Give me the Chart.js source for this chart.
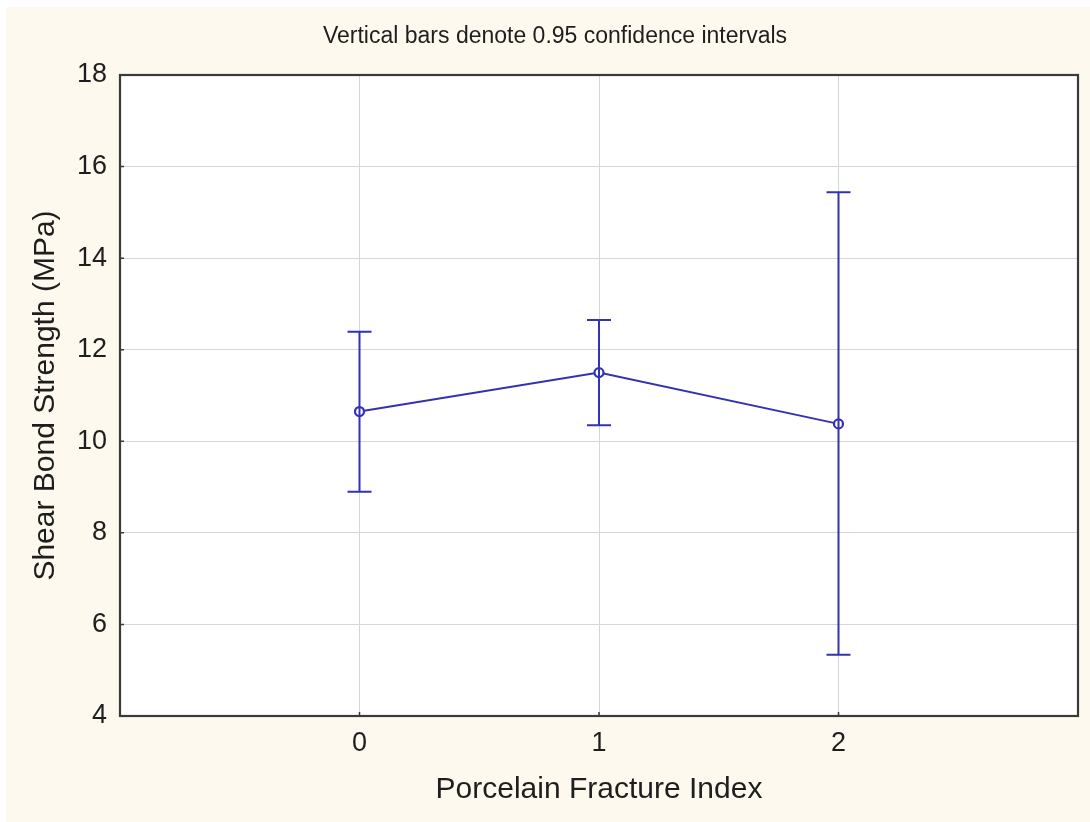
<!DOCTYPE html>
<html>
<head>
<meta charset="utf-8">
<script src="https://cdn.jsdelivr.net/npm/chart.js@4.4.1/dist/chart.umd.min.js"></script>
<style>
html, body { margin: 0; padding: 0; background: #ffffff; }
</style>
</head>
<body>
<canvas id="chart" width="1090" height="822"></canvas>
<script>
// Porcelain fracture index vs shear bond strength, means with 0.95 CI
const categories = [0, 1, 2]
const means = [10.65, 11.50, 10.38]
const upperCI = [12.39, 12.65, 15.44]
const lowerCI = [8.90, 10.35, 5.34]
const yTicks = [4, 6, 8, 10, 12, 14, 16, 18]
const headerText = 'Vertical bars denote 0.95 confidence intervals'

const lineColor = '#3232b2'
const frameColor = '#3a3a3a'
const gridColor = '#d6d6d6'
const textColor = '#1e1e1e'
const fontFamily = '"Liberation Sans", Arial, sans-serif'

const statisticaPlugin = {
    id: 'statisticaPlugin',
    beforeDraw(chart) {
        const ctx = chart.ctx
        const area = chart.chartArea
        ctx.save()
        ctx.fillStyle = '#ffffff'
        ctx.fillRect(0, 0, chart.width, chart.height)
        ctx.fillStyle = '#fdf9ef'
        ctx.fillRect(6, 7, chart.width - 6, chart.height - 7)
        ctx.fillStyle = '#ffffff'
        ctx.fillRect(area.left, area.top, area.right - area.left, area.bottom - area.top)
        ctx.restore()
    },
    afterDatasetsDraw(chart) {
        // error bars from the CI arrays
        const ctx = chart.ctx
        const xScale = chart.scales.x
        const yScale = chart.scales.y
        ctx.save()
        ctx.strokeStyle = lineColor
        ctx.lineWidth = 2
        for (let i = 0; i < categories.length; i++) {
            const x = xScale.getPixelForValue(categories[i])
            const yTop = yScale.getPixelForValue(upperCI[i])
            const yBottom = yScale.getPixelForValue(lowerCI[i])
            ctx.beginPath()
            ctx.moveTo(x, yTop)
            ctx.lineTo(x, yBottom)
            ctx.moveTo(x - 12, yTop)
            ctx.lineTo(x + 12, yTop)
            ctx.moveTo(x - 12, yBottom)
            ctx.lineTo(x + 12, yBottom)
            ctx.stroke()
        }
        ctx.restore()
    },
    afterDraw(chart) {
        const ctx = chart.ctx
        const area = chart.chartArea
        const xScale = chart.scales.x
        const yScale = chart.scales.y
        ctx.save()
        // inward tick marks
        ctx.strokeStyle = frameColor
        ctx.lineWidth = 1.5
        ctx.beginPath()
        yTicks.forEach(v => {
            const y = yScale.getPixelForValue(v)
            ctx.moveTo(area.left, y)
            ctx.lineTo(area.left + 4, y)
        })
        categories.forEach(v => {
            const x = xScale.getPixelForValue(v)
            ctx.moveTo(x, area.bottom)
            ctx.lineTo(x, area.bottom - 4)
        })
        ctx.stroke()
        // plot frame
        ctx.lineWidth = 2.2
        ctx.strokeRect(area.left, area.top, area.right - area.left, area.bottom - area.top)
        // header
        ctx.fillStyle = textColor
        ctx.font = '23px ' + fontFamily
        ctx.textAlign = 'center'
        ctx.textBaseline = 'middle'
        ctx.fillText(headerText, 555, 37)
        ctx.restore()
    }
}

const ctx = document.getElementById('chart').getContext('2d')
const chart = new Chart(ctx, {
    type: 'line',
    data: {
        datasets: [{
            data: categories.map((c, i) => ({ x: c, y: means[i] })),
            borderColor: lineColor,
            borderWidth: 2,
            pointRadius: 4.5,
            pointBorderWidth: 2.2,
            pointBackgroundColor: '#ffffff',
            pointBorderColor: lineColor,
            tension: 0,
            fill: false
        }]
    },
    plugins: [statisticaPlugin],
    options: {
        responsive: false,
        animation: false,
        devicePixelRatio: 1,
        layout: {
            padding: { top: 75, right: 12, left: 0, bottom: 0 }
        },
        plugins: {
            legend: { display: false },
            tooltip: { enabled: false },
            title: { display: false }
        },
        scales: {
            x: {
                type: 'linear',
                min: -1,
                max: 3,
                afterBuildTicks: scale => {
                    scale.ticks = categories.map(v => ({ value: v }))
                },
                afterFit: scale => {
                    scale.height = 106
                },
                grid: {
                    color: gridColor,
                    lineWidth: 1,
                    drawTicks: false
                },
                border: { display: false },
                ticks: {
                    color: textColor,
                    padding: 11,
                    font: { family: fontFamily, size: 27 },
                    callback: v => String(v)
                },
                title: {
                    display: true,
                    text: 'Porcelain Fracture Index',
                    color: textColor,
                    padding: { top: 0, bottom: 14 },
                    font: { family: fontFamily, size: 30 }
                }
            },
            y: {
                min: 4,
                max: 18,
                afterBuildTicks: scale => {
                    scale.ticks = yTicks.map(v => ({ value: v }))
                },
                afterFit: scale => {
                    scale.width = 120
                },
                grid: {
                    color: gridColor,
                    lineWidth: 1,
                    drawTicks: false
                },
                border: { display: false },
                ticks: {
                    color: textColor,
                    padding: 13,
                    font: { family: fontFamily, size: 27 }
                },
                title: {
                    display: true,
                    text: 'Shear Bond Strength (MPa)',
                    color: textColor,
                    padding: { top: 28, bottom: 0 },
                    font: { family: fontFamily, size: 30 }
                }
            }
        }
    }
})
</script>
</body>
</html>
